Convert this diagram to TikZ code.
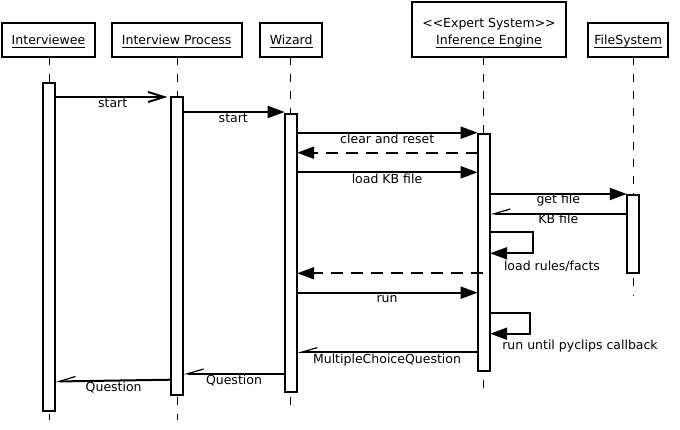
\documentclass[tikz,border=0pt]{standalone}
\usepackage{fontspec}
\setmainfont{DejaVu Sans}
\usetikzlibrary{arrows.meta}
\newcommand\myul[1]{\setbox0=\hbox{#1}\rlap{\vrule width\wd0 height -2.5pt depth 3.5pt}\box0}
\begin{document}
\begin{tikzpicture}[x=1pt,y=-1pt,
  every node/.style={font=\fontsize{12.5}{14}\selectfont, inner sep=0pt, outer sep=0pt},
  head/.style={draw, line width=2pt, minimum height=34.6pt, fill=white},
  actbar/.style={draw, line width=2pt, fill=white, minimum width=12.5pt},
  lifeline/.style={line width=1pt, dash pattern=on 8pt off 9pt},
  lbl/.style={anchor=base},
  call/.style={line width=2pt, -{Triangle[length=17pt,width=12pt]}},
  opencall/.style={line width=2pt, -{Straight Barb[length=16pt,width=10pt]}, shorten >=3.5pt},
  reply/.style={line width=2pt, dash pattern=on 12pt off 8pt, -{Triangle[length=17pt,width=12pt]}},
  asyncret/.style={line width=2pt, -{Straight Barb[harpoon,swap,length=16pt,width=9.4pt,line width=1.2pt]}},
]
\useasboundingbox (0,0) rectangle (680,429);
\fill[white] (0,0) rectangle (680,429);

% headers
\node[head, minimum width=93pt] (hA) at (48.5,40) {};
\node[head, minimum width=130pt] (hB) at (176.7,40) {};
\node[head, minimum width=62.3pt] (hC) at (291.2,40) {};
\node[head, minimum width=154.6pt, minimum height=55.3pt] (hD) at (489,29.7) {};
\node[head, minimum width=79.7pt] (hE) at (628.2,40) {};
\node[lbl] (tA) at (48.5,44.3) {\myul{Interviewee}};
\node[lbl] (tB) at (176.7,44.3) {\myul{Interview Process}};
\node[lbl] (tC) at (291.2,44.3) {\myul{Wizard}};
\node[lbl] (tD1) at (489,27.3) {<\kern0pt<Expert System>\kern0pt>};
\node[lbl] (tD2) at (489,44.3) {\myul{Inference Engine}};
\node[lbl] (tE) at (628.2,44.3) {\myul{FileSystem}};

% lifeline anchors
\coordinate (eA) at (49,420);
\coordinate (eB) at (177.2,420);
\coordinate (eC) at (290.9,413);
\coordinate (eD) at (483.9,394);
\coordinate (eE) at (633,296);
\draw[lifeline] (eA |- hA.south) -- (eA);
\draw[lifeline] (eB |- hB.south) -- (eB);
\draw[lifeline] (eC |- hC.south) -- (eC);
\draw[lifeline] (eD |- hD.south) -- (eD);
\draw[lifeline] (eE |- hE.south) -- (eE);

% activation bars
\node[actbar, minimum height=328.3pt] (bA) at (49,246.85) {};
\node[actbar, minimum height=298.3pt] (bB) at (177.2,245.85) {};
\node[actbar, minimum height=278pt] (bC) at (290.9,252.7) {};
\node[actbar, minimum height=237.6pt] (bD) at (483.9,252.5) {};
\node[actbar, minimum height=78pt] (bE) at (633,233.7) {};

% messages
\draw[opencall] (bA.east |- 0,97) -- (bB.west |- 0,97);
\node[lbl] (m1) at (112.7,107.3) {start};
\draw[call] (bB.east |- 0,112) -- (bC.west |- 0,112);
\node[lbl] (m2) at (233.3,122.3) {start};
\draw[call] (bC.east |- 0,132.7) -- (bD.west |- 0,132.7);
\node[lbl] (m3) at (387.2,143.3) {clear and reset};
\draw[reply] (bD.west |- 0,152.7) -- (bC.east |- 0,152.7);
\draw[call] (bC.east |- 0,172.3) -- (bD.west |- 0,172.3);
\node[lbl] (m4) at (387,183.3) {load KB file};
\draw[call] (bD.east |- 0,194) -- (bE.west |- 0,194);
\node[lbl] (m5) at (558.3,203.3) {get file};
\draw[asyncret] (bE.west |- 0,213.7) -- (bD.east |- 0,213.7);
\node[lbl] (m6) at (558.3,223.3) {KB file};
\draw[call] (bD.east |- 0,232.3) -- ++(42.7,0) |- (bD.east |- 0,253.3);
\node[lbl] (m7) at (552,270) {load rules/facts};
\draw[reply, shorten <=-5pt] (bD.west |- 0,273.3) -- (bC.east |- 0,273.3);
\draw[call] (bC.east |- 0,292.7) -- (bD.west |- 0,292.7);
\node[lbl] (m8) at (387,302.7) {run};
\draw[call] (bD.east |- 0,312.7) -- ++(40,0) |- (bD.east |- 0,333.7);
\node[lbl, anchor=base west] (m9) at (502.3,349.3) {run until pyclips callback};
\draw[asyncret] (bD.west |- 0,352.3) -- (bC.east |- 0,352.3);
\node[lbl] (m10) at (387,363.3) {MultipleChoiceQuestion};
\draw[asyncret] (bC.west |- 0,373.7) -- (bB.east |- 0,373.7);
\node[lbl] (m11) at (234,384) {Question};
\draw[asyncret] (bB.west |- 0,379.7) -- (bA.east |- 0,381.5);
\node[lbl] (m12) at (113.7,391) {Question};
\end{tikzpicture}
\end{document}
